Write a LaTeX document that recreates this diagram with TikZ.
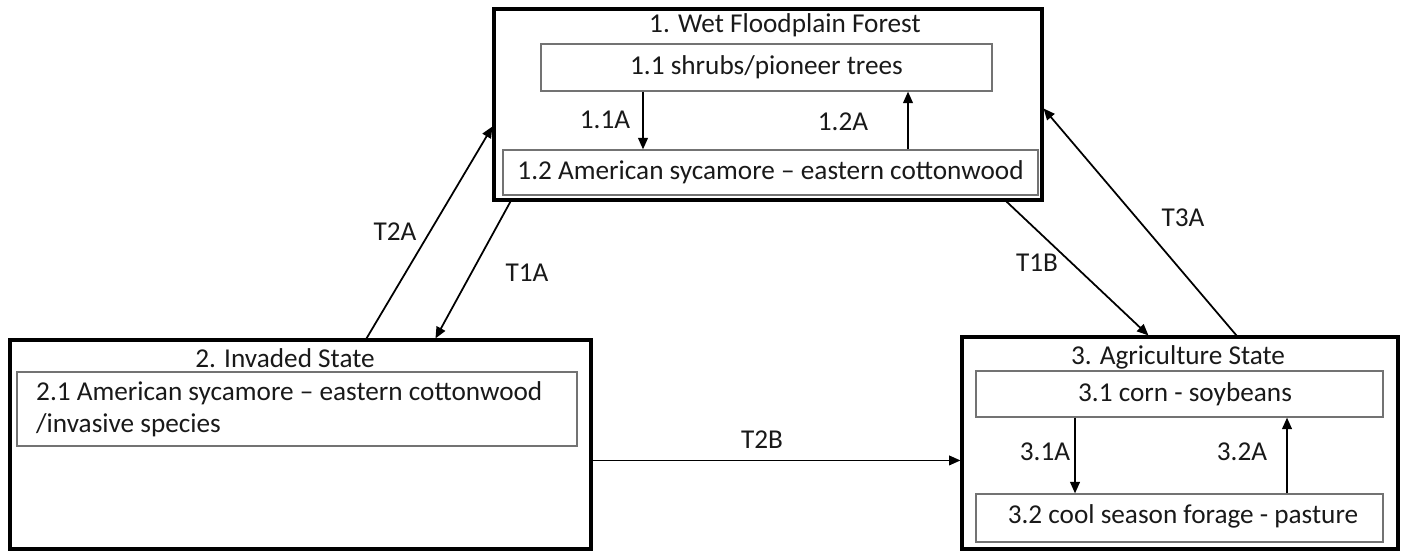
\documentclass[tikz,border=0pt]{standalone}
\usepackage{fontspec}
\setmainfont{Carlito}
\usepackage{tikz}
\usetikzlibrary{arrows.meta, positioning, calc}

\tikzset{
  statebox/.style={draw=black, line width=1.8pt, inner sep=0pt},
  phasebox/.style={draw=black!55, line width=0.7pt, inner sep=0pt},
  lbl/.style={font=\fontsize{15.5}{18.2}\selectfont, text=black!90},
  arr/.style={line width=1pt, -{Triangle[length=6.5pt,width=5.5pt]}}
}

\begin{document}
\begin{tikzpicture}[x=0.02cm, y=-0.02cm]
  \useasboundingbox (0,0) rectangle (1405,551);

  %% State 1
  \node[statebox, minimum width=10.96cm, minimum height=3.82cm] (box1) at (768,104.5) {};
  \node[lbl] (title1) at (785,25) {1. Wet Floodplain Forest};
  \node[phasebox, minimum width=9.02cm, minimum height=0.94cm] (b11) at (766.5,67.5) {};
  \node[lbl] at (b11) {1.1 shrubs/pioneer trees};
  \node[phasebox, minimum width=10.7cm, minimum height=0.9cm] (b12) at (770.5,172.5) {};
  \node[lbl] at (b12) {1.2 American sycamore -- eastern cottonwood};

  \coordinate (x11a) at (643,0);
  \coordinate (x12a) at (908,0);
  \draw[arr] (x11a |- b11.south) -- (x11a |- b12.north);
  \draw[arr] (x12a |- b12.north) -- (x12a |- b11.south);
  \node[lbl] at (605,120) {1.1A};
  \node[lbl] at (843,122) {1.2A};

  %% State 2
  \node[statebox, minimum width=11.62cm, minimum height=4.18cm] (box2) at (300.5,444.5) {};
  \node[lbl] (title2) at (285,358) {2. Invaded State};
  \node[phasebox, minimum width=11.2cm, minimum height=1.48cm] (b21) at (297,409) {};
  \node[lbl, anchor=west, align=left] at (30,409) {2.1 American sycamore -- eastern cottonwood\\/invasive species};

  %% State 3
  \node[statebox, minimum width=8.72cm, minimum height=4.24cm] (box3) at (1180,443) {};
  \node[lbl] (title3) at (1178,357) {3. Agriculture State};
  \node[phasebox, minimum width=8.14cm, minimum height=0.92cm] (b31) at (1179.5,394) {};
  \node[lbl] at (1185,394) {3.1 corn - soybeans};
  \node[phasebox, minimum width=8.14cm, minimum height=0.96cm] (b32) at (1179.5,518) {};
  \node[lbl] at (1183,516) {3.2 cool season forage - pasture};

  \coordinate (x31a) at (1075,0);
  \coordinate (x32a) at (1287,0);
  \draw[arr] (x31a |- b31.south) -- (x31a |- b32.north);
  \draw[arr] (x32a |- b32.north) -- (x32a |- b31.south);
  \node[lbl] at (1045,452) {3.1A};
  \node[lbl] at (1242,452) {3.2A};

  %% Transitions
  \draw[arr] ($(box2.north west)+(358,0)$) -- ($(box1.north west)+(0,119)$);
  \draw[arr] ($(box1.south west)+(18,0)$) -- ($(box2.north west)+(427,0)$);
  \draw[arr] ($(box1.south west)+(514,0)$) -- ($(box3.north west)+(188,0)$);
  \draw[arr] ($(box3.north west)+(276,0)$) -- ($(box1.north east)+(0,101)$);
  \coordinate (t2b) at ($(box2.north east)+(0,122)$);
  \draw[arr] (t2b) -- (t2b -| box3.west);

  \node[lbl] at (395,232) {T2A};
  \node[lbl] at (527,273) {T1A};
  \node[lbl] at (1037,263) {T1B};
  \node[lbl] at (1183,218) {T3A};
  \node[lbl] at (762,440) {T2B};
\end{tikzpicture}
\end{document}
